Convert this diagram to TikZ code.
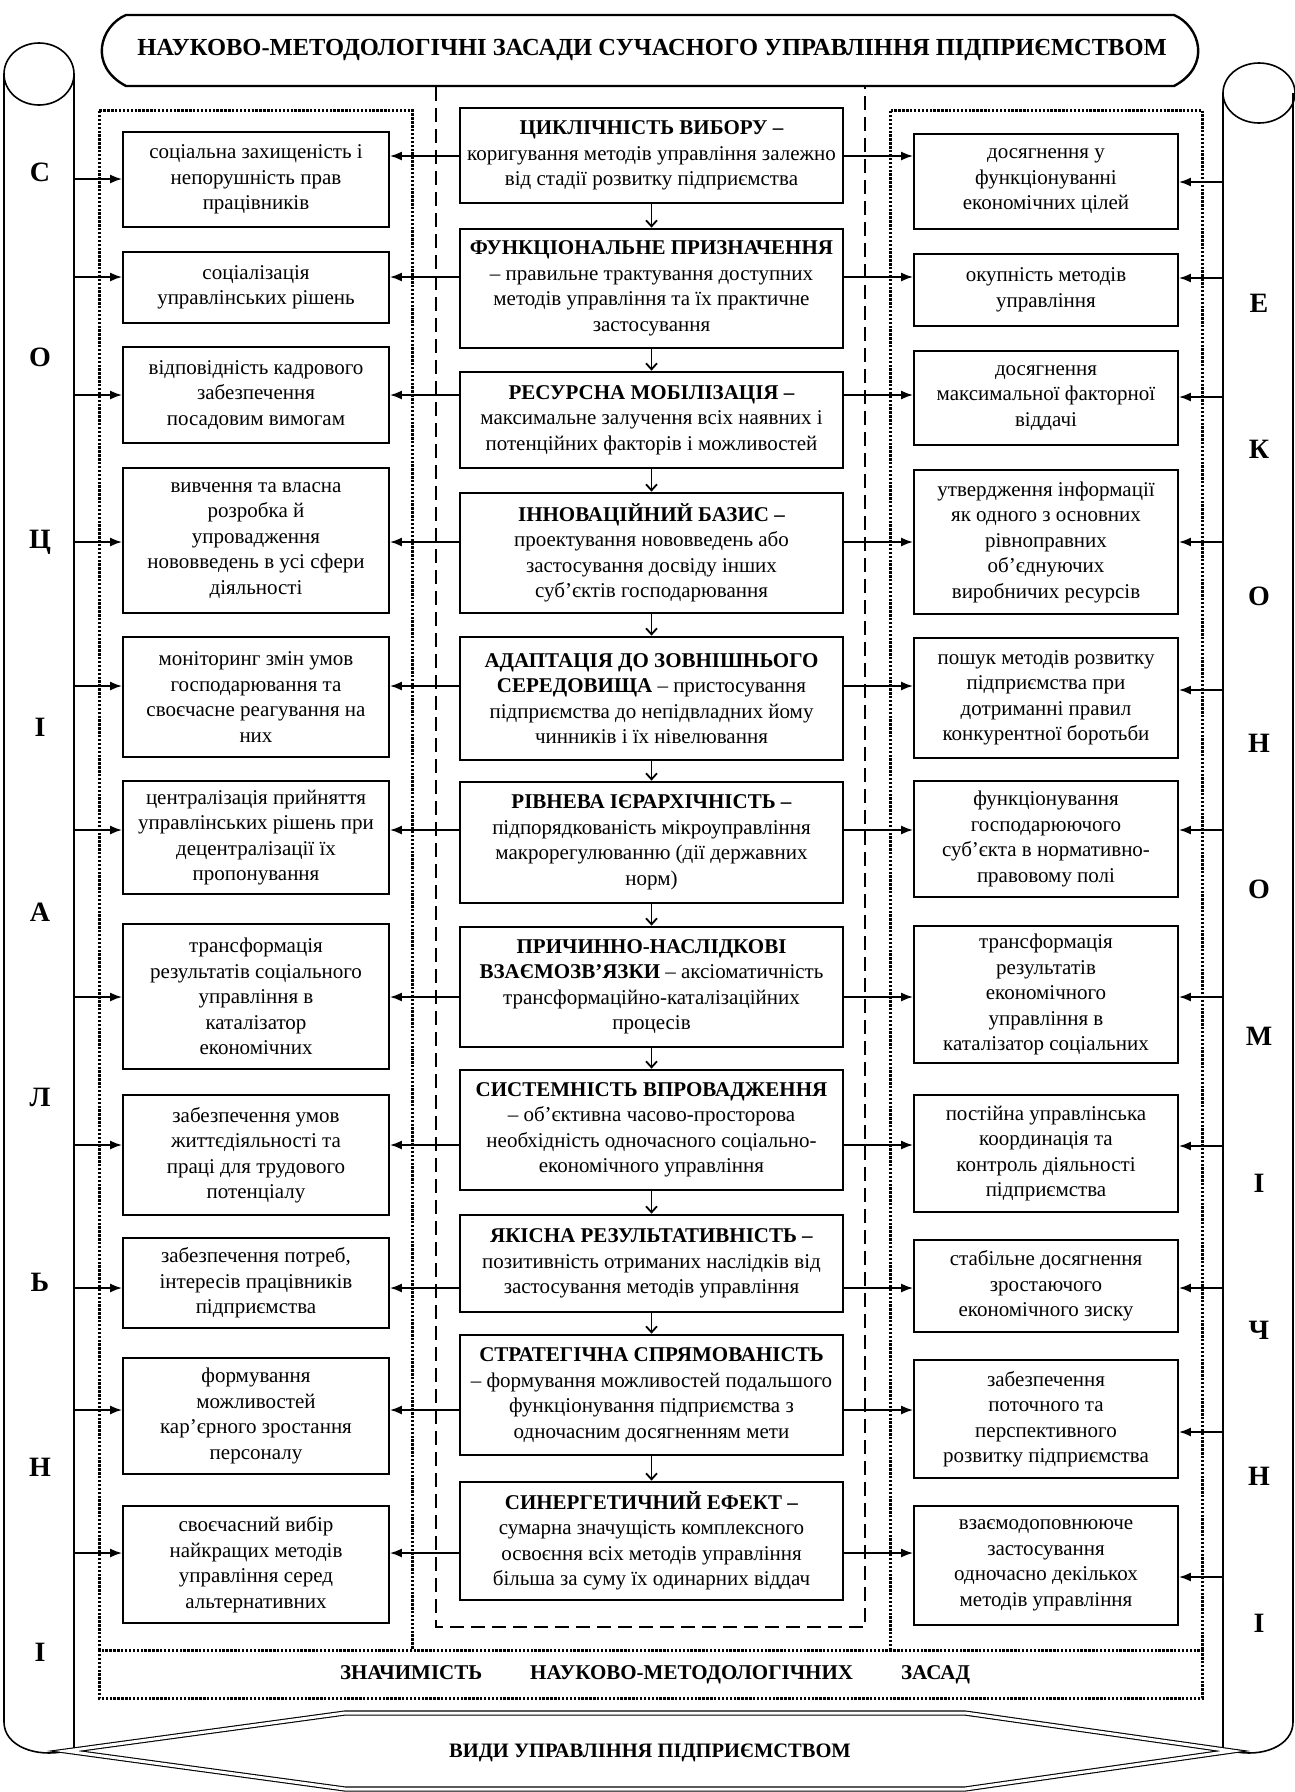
\documentclass[tikz,border=0pt]{standalone}
\usepackage{fontspec}
\setmainfont{Liberation Serif}
\usetikzlibrary{arrows.meta}

\begin{document}
\begin{tikzpicture}[x=1pt,y=-1pt,font=\fontsize{21}{25.5}\selectfont,>={Latex[length=12pt,width=9pt]}]
    \tikzset{cb/.style={draw,line width=2.8pt,align=center,minimum width=383pt,inner sep=2pt},
             sb/.style={draw,line width=1.8pt,align=center,inner sep=2pt},
             lb/.style={sb,minimum width=266pt},
             rb/.style={sb,minimum width=264pt},
             ar/.style={->,line width=1.8pt},
             dn/.style={-{Straight Barb[length=6pt,width=11pt]},line width=1.8pt},
             dotbox/.style={line width=3pt,dash pattern=on 2.4pt off 1.5pt},
             dashline/.style={line width=2.2pt,dash pattern=on 14pt off 7pt},
             scroll/.style={line width=1.6pt},
             letter/.style={font=\fontsize{28}{28}\selectfont\bfseries}}
    \useasboundingbox (0,0) rectangle (1295,1792);
    % banner and scrolls
    \draw[line width=2.4pt] (126,15) -- (1174,15) .. controls (1200,26) and (1212,66) .. (1174,86)
      -- (126,86) .. controls (88,66) and (100,26) .. (126,15) -- cycle;
    \node[font=\fontsize{24.5}{26}\selectfont\bfseries] (title) at (652,50) {НАУКОВО-МЕТОДОЛОГІЧНІ ЗАСАДИ СУЧАСНОГО УПРАВЛІННЯ ПІДПРИЄМСТВОМ};
    \draw[scroll] (39,74) ellipse [x radius=35pt,y radius=31pt];
    \draw[scroll] (4,74) -- (4,1722) .. controls (4,1746) and (36,1758) .. (66,1751);
    \draw[scroll] (74,74) -- (74,1748);
    \draw[scroll] (1259,93) ellipse [x radius=36pt,y radius=30pt];
    \draw[scroll] (1293,93) -- (1293,1722) .. controls (1293,1746) and (1262,1758) .. (1232,1751);
    \draw[scroll] (1223,93) -- (1223,1748);
    \draw[double,double distance=3pt,line width=1.1pt] (66,1751) -- (345,1713) -- (965,1713)
      -- (1232,1751) -- (965,1789) -- (345,1789) -- cycle;
    \node[font=\fontsize{20.5}{24}\selectfont\bfseries] (vydy) at (650,1753) {ВИДИ УПРАВЛІННЯ ПІДПРИЄМСТВОМ};
    \foreach \ch [count=\k from 0] in {С,О,Ц,І,А,Л,Ь,Н,І}
      \node[letter] (lt\k) at (40,{172+185*\k}) {\ch};
    \foreach \ch [count=\k from 0] in {Е,К,О,Н,О,М,І,Ч,Н,І}
      \node[letter] (rt\k) at (1259,{303+146.7*\k}) {\ch};
    % frames
    \draw[dotbox] (99,1650) -- (99,110) -- (412,110) -- (412,1650);
    \draw[dotbox] (890,1650) -- (890,110) -- (1202,110) -- (1202,1650);
    \draw[dotbox] (99,1650) rectangle (1202,1698);
    \draw[dashline] (436,87) -- (436,1627) -- (865,1627) -- (865,87);
    \node[font=\fontsize{21}{24}\selectfont\bfseries] (znach) at (655,1675) {ЗНАЧИМІСТЬ\hspace{48pt}НАУКОВО-МЕТОДОЛОГІЧНИХ\hspace{48pt}ЗАСАД};
    % centre column
    \node[cb,minimum height=95pt] (c1) at (651.5,155.5) {\textbf{ЦИКЛІЧНІСТЬ ВИБОРУ –}\\коригування методів управління залежно\\від стадії розвитку підприємства};
    \node[cb,minimum height=119pt] (c2) at (651.5,288.5) {\textbf{ФУНКЦІОНАЛЬНЕ ПРИЗНАЧЕННЯ}\\– правильне трактування доступних\\методів управління та їх практичне\\застосування};
    \node[cb,minimum height=96pt] (c3) at (651.5,420) {\textbf{РЕСУРСНА МОБІЛІЗАЦІЯ –}\\максимальне залучення всіх наявних і\\потенційних факторів і можливостей};
    \node[cb,minimum height=120pt] (c4) at (651.5,553) {\textbf{ІННОВАЦІЙНИЙ БАЗИС –}\\проектування нововведень або\\застосування досвіду інших\\суб’єктів господарювання};
    \node[cb,minimum height=123pt] (c5) at (651.5,698.5) {\textbf{АДАПТАЦІЯ ДО ЗОВНІШНЬОГО}\\\textbf{СЕРЕДОВИЩА} – пристосування\\підприємства до непідвладних йому\\чинників і їх нівелювання};
    \node[cb,minimum height=121pt] (c6) at (651.5,842.5) {\textbf{РІВНЕВА ІЄРАРХІЧНІСТЬ –}\\підпорядкованість мікроуправління\\макрорегулюванню (дії державних\\норм)};
    \node[cb,minimum height=120pt] (c7) at (651.5,987) {\textbf{ПРИЧИННО-НАСЛІДКОВІ}\\\textbf{ВЗАЄМОЗВ’ЯЗКИ} – аксіоматичність\\трансформаційно-каталізаційних\\процесів};
    \node[cb,minimum height=120pt] (c8) at (651.5,1130) {\textbf{СИСТЕМНІСТЬ ВПРОВАДЖЕННЯ}\\– об’єктивна часово-просторова\\необхідність одночасного соціально-\\економічного управління};
    \node[cb,minimum height=97pt] (c9) at (651.5,1263.5) {\textbf{ЯКІСНА РЕЗУЛЬТАТИВНІСТЬ –}\\позитивність отриманих наслідків від\\застосування методів управління};
    \node[cb,minimum height=120pt] (c10) at (651.5,1395) {\textbf{СТРАТЕГІЧНА СПРЯМОВАНІСТЬ}\\– формування можливостей подальшого\\функціонування підприємства з\\одночасним досягненням мети};
    \node[cb,minimum height=118pt] (c11) at (651.5,1541) {\textbf{СИНЕРГЕТИЧНИЙ ЕФЕКТ –}\\сумарна значущість комплексного\\освоєння всіх методів управління\\більша за суму їх одинарних віддач};
    % social column
    \node[lb,minimum height=95pt] (l1) at (256,179.5) {соціальна захищеність і\\непорушність прав\\працівників};
    \node[lb,minimum height=71pt] (l2) at (256,287.5) {соціалізація\\управлінських рішень};
    \node[lb,minimum height=96pt] (l3) at (256,395) {відповідність кадрового\\забезпечення\\посадовим вимогам};
    \node[lb,minimum height=145pt] (l4) at (256,540.5) {вивчення та власна\\розробка й\\упровадження\\нововведень в усі сфери\\діяльності};
    \node[lb,minimum height=120pt] (l5) at (256,697) {моніторинг змін умов\\господарювання та\\своєчасне реагування на\\них};
    \node[lb,minimum height=113pt] (l6) at (256,837.5) {централізація прийняття\\управлінських рішень при\\децентралізації їх\\пропонування};
    \node[lb,minimum height=145pt] (l7) at (256,996.5) {трансформація\\результатів соціального\\управління в\\каталізатор\\економічних};
    \node[lb,minimum height=120pt] (l8) at (256,1155) {забезпечення умов\\життєдіяльності та\\праці для трудового\\потенціалу};
    \node[lb,minimum height=90pt] (l9) at (256,1283) {забезпечення потреб,\\інтересів працівників\\підприємства};
    \node[lb,minimum height=116pt] (l10) at (256,1416) {формування\\можливостей\\кар’єрного зростання\\персоналу};
    \node[lb,minimum height=117pt] (l11) at (256,1564.5) {своєчасний вибір\\найкращих методів\\управління серед\\альтернативних};
    % economic column
    \node[rb,minimum height=95pt] (r1) at (1046,181.5) {досягнення у\\функціонуванні\\економічних цілей};
    \node[rb,minimum height=72pt] (r2) at (1046,290) {окупність методів\\управління};
    \node[rb,minimum height=94pt] (r3) at (1046,398) {досягнення\\максимальної факторної\\віддачі};
    \node[rb,minimum height=144pt] (r4) at (1046,542) {утвердження інформації\\як одного з основних\\рівноправних\\об’єднуючих\\виробничих ресурсів};
    \node[rb,minimum height=120pt] (r5) at (1046,698) {пошук методів розвитку\\підприємства при\\дотриманні правил\\конкурентної боротьби};
    \node[rb,minimum height=116pt] (r6) at (1046,839) {функціонування\\господарюючого\\суб’єкта в нормативно-\\правовому полі};
    \node[rb,minimum height=137pt] (r7) at (1046,994.5) {трансформація\\результатів\\економічного\\управління в\\каталізатор соціальних};
    \node[rb,minimum height=117pt] (r8) at (1046,1153.5) {постійна управлінська\\координація та\\контроль діяльності\\підприємства};
    \node[rb,minimum height=92pt] (r9) at (1046,1286) {стабільне досягнення\\зростаючого\\економічного зиску};
    \node[rb,minimum height=118pt] (r10) at (1046,1419) {забезпечення\\поточного та\\перспективного\\розвитку підприємства};
    \node[rb,minimum height=119pt] (r11) at (1046,1565.5) {взаємодоповнююче\\застосування\\одночасно декількох\\методів управління};
    % connectors
    \foreach \i/\j in {1/2,2/3,3/4,4/5,5/6,6/7,7/8,8/9,9/10,10/11}
      \draw[dn] (c\i.south) -- (c\j.north);
    \foreach \i/\a/\s/\t in {1/156/179/182,2/277/277/278,3/395/395/397,4/542/542/542,5/686/686/690,
                             6/830/830/830,7/997/997/997,8/1145/1145/1146,9/1288/1288/1288,
                             10/1410/1410/1432,11/1553/1553/1577} {
      \coordinate (a\i) at (0,\a);
      \coordinate (s\i) at (74,\s);
      \coordinate (t\i) at (1223,\t);
      \draw[ar] (c\i.west |- a\i) -- (l\i.east |- a\i);
      \draw[ar] (c\i.east |- a\i) -- (r\i.west |- a\i);
      \draw[ar] (s\i) -- (l\i.west |- s\i);
      \draw[ar] (t\i) -- (r\i.east |- t\i);
    }
  \end{tikzpicture}
\end{document}
